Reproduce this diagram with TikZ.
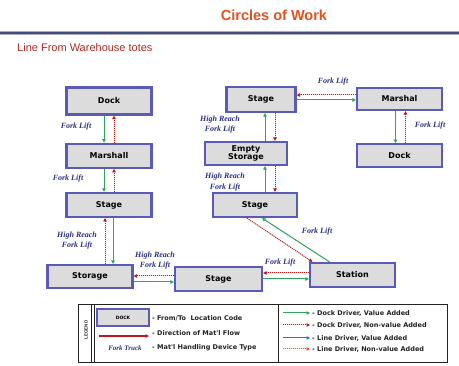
\documentclass[tikz,border=0pt]{standalone}
\usepackage{fontspec}
\setmainfont{Liberation Sans}
\newfontfamily\boxfont{DejaVu Sans}
\newfontfamily\liftfont{Liberation Serif}
\usepackage{tikz}
\usetikzlibrary{arrows.meta,positioning,calc}
\definecolor{titleorange}{HTML}{E5501E}
\definecolor{subred}{HTML}{B02A24}
\definecolor{rulenavy}{HTML}{454B78}
\definecolor{rulegray}{HTML}{A9ACBF}
\definecolor{boxedge}{HTML}{5A5AB8}
\definecolor{boxfill}{HTML}{DCDCDC}
\definecolor{liftblue}{HTML}{2B2F86}
\definecolor{valgreen}{HTML}{2FA45A}
\definecolor{nonvalred}{HTML}{C01818}
\definecolor{lineblue}{HTML}{2F6BE8}
\definecolor{linered}{HTML}{F04848}
\definecolor{legink}{HTML}{222222}

\begin{document}
\begin{tikzpicture}[x=1pt, y=1pt,
  loc/.style={rectangle, draw=boxedge, line width=2.2pt, fill=boxfill, minimum width=85pt, minimum height=24pt, inner sep=1pt, align=center, font=\boxfont\bfseries\fontsize{8}{9}\selectfont},
  lift/.style={font=\liftfont\bfseries\itshape\fontsize{8}{10.5}\selectfont, text=liftblue, align=center, inner sep=0pt},
  tip/.style={-{Triangle[length=3.5pt,width=3.5pt]}},
  va/.style={tip, line width=1pt, draw=valgreen, fill=valgreen},
  nva/.style={tip, line width=1pt, draw=nonvalred, fill=nonvalred, dash pattern=on 1pt off 1pt},
  lva/.style={tip, line width=1pt, draw=lineblue, fill=lineblue},
  lnva/.style={tip, line width=1pt, draw=linered, fill=linered, dash pattern=on 1pt off 1pt},
  legtext/.style={anchor=west, inner sep=0pt, text=legink, font=\boxfont\bfseries\fontsize{6.5}{8}\selectfont}
]
\useasboundingbox (0,0) rectangle (459,-366);

% header
\node[font=\bfseries\fontsize{14.5}{16}\selectfont, text=titleorange] (title) at (274,-15) {Circles of Work};
\draw[rulegray, line width=4pt] (0,-33) -- (459,-33);
\draw[rulenavy, line width=1.8pt] (0,-33) -- (459,-33);
\node[anchor=west, text=subred, font=\fontsize{11}{13}\selectfont, inner sep=0pt] (subtitle) at (17,-48) {Line From Warehouse totes};

% left circle
\node[loc, minimum height=27pt] (dockL) at (109,-101) {Dock};
\node[loc, below=27pt of dockL] (marshall) {Marshall};
\node[loc, below=23pt of marshall] (stageL) {Stage};
\node[loc, minimum height=23pt] (storage) at (90,-276.5) {Storage};
\node[loc, minimum width=87pt] (stageB) at (218.5,-279) {Stage};
\node[loc] (station) at (352.5,-275) {Station};

% right circle
\node[loc, minimum width=69pt, minimum height=25pt] (stageT) at (261,-99.5) {Stage};
\node[loc, minimum width=82pt, minimum height=23pt, font=\boxfont\bfseries\fontsize{8}{8.5}\selectfont] (emptystor) at (246,-153.5) {Empty\\Storage};
\node[loc, minimum width=84pt] (stageR) at (255,-205) {Stage};
\node[loc, minimum height=22pt] (marshal) at (399.5,-99) {Marshal};
\node[loc, minimum height=23pt, below=32pt of marshal] (dockR) {Dock};

% flows, left side
\draw[va] ([xshift=-5pt]dockL.south) -- ([xshift=-5pt]dockL.south |- marshall.north);
\draw[nva] ([xshift=5pt]dockL.south |- marshall.north) -- ([xshift=5pt]dockL.south);
\draw[va] ([xshift=-5pt]marshall.south) -- ([xshift=-5pt]marshall.south |- stageL.north);
\draw[nva] ([xshift=5pt]marshall.south |- stageL.north) -- ([xshift=5pt]marshall.south);
\draw[va] ([xshift=4pt]stageL.south) -- ([xshift=4pt]stageL.south |- storage.north);
\draw[nva] ([xshift=-4pt]stageL.south |- storage.north) -- ([xshift=-4pt]stageL.south);
\draw[nva] ([yshift=3pt]stageB.west) -- ([yshift=3pt]stageB.west -| storage.east);
\draw[va] ([yshift=-3pt]stageB.west -| storage.east) -- ([yshift=-3pt]stageB.west);
\draw[nva] ([yshift=2pt]station.west) -- ([yshift=2pt]station.west -| stageB.east);
\draw[va] ([yshift=-4pt]station.west -| stageB.east) -- ([yshift=-4pt]station.west);

% flows, right side
\draw[va] ([xshift=-23pt]station.north) -- ([xshift=7pt]stageR.south);
\draw[nva] ([xshift=-8pt]stageR.south) -- ([xshift=-40pt]station.north);
\draw[va] ([xshift=10pt]stageR.north) -- ([xshift=10pt]stageR.north |- emptystor.south);
\draw[nva] ([xshift=20pt]stageR.north |- emptystor.south) -- ([xshift=20pt]stageR.north);
\draw[va] ([xshift=4pt]stageT.south |- emptystor.north) -- ([xshift=4pt]stageT.south);
\draw[nva] ([xshift=14pt]stageT.south) -- ([xshift=14pt]stageT.south |- emptystor.north);
\draw[nva] ([yshift=4pt]marshal.west) -- ([yshift=4pt]marshal.west -| stageT.east);
\draw[va] ([yshift=-1pt]marshal.west -| stageT.east) -- ([yshift=-1pt]marshal.west);
\draw[va] ([xshift=-4pt]marshal.south) -- ([xshift=-4pt]marshal.south |- dockR.north);
\draw[nva] ([xshift=6pt]marshal.south |- dockR.north) -- ([xshift=6pt]marshal.south);

% device labels
\node[lift] (lftA) at (76,-127) {Fork Lift};
\node[lift] (lftB) at (68,-179) {Fork Lift};
\node[lift] (lftC) at (77,-240.5) {High Reach\\Fork Lift};
\node[lift] (lftD) at (155,-260.5) {High Reach\\Fork Lift};
\node[lift] (lftE) at (280,-263) {Fork Lift};
\node[lift] (lftF) at (317,-232) {Fork Lift};
\node[lift] (lftG) at (220,-124.5) {High Reach\\Fork Lift};
\node[lift] (lftH) at (225,-182) {High Reach\\Fork Lift};
\node[lift] (lftI) at (333,-82) {Fork Lift};
\node[lift] (lftJ) at (430,-126) {Fork Lift};

% legend
\draw[legink, line width=0.9pt] (78,-304) rectangle (447,-362);
\draw[legink, line width=0.6pt] (91,-304) -- (91,-362) (94,-304) -- (94,-362);
\draw[legink, line width=0.6pt] (278,-304) -- (278,-362);
\node[rotate=90, text=legink, font=\bfseries\fontsize{4.5}{5}\selectfont, inner sep=0pt] (legword) at (86,-330) {LEGEND};

\node[loc, minimum width=52pt, minimum height=17pt, line width=1.5pt, font=\boxfont\bfseries\fontsize{4.5}{5}\selectfont] (legdock) at (123,-317.5) {DOCK};
\node[legtext] (legA) at (152,-318) {- From/To~~Location Code};
\coordinate (flowA) at (99,-336);
\coordinate (flowB) at (149,-336);
\draw[tip, line width=1.1pt, draw=nonvalred, fill=nonvalred] (flowA) -- (flowB);
\node[legtext] (legB) at (152,-333) {- Direction of Mat'l Flow};
\node[font=\liftfont\bfseries\itshape\fontsize{7}{8}\selectfont, text=liftblue, inner sep=0pt] (legtruck) at (125,-348) {Fork Truck};
\node[legtext] (legC) at (152,-348) {- Mat'l Handling Device Type};

\node[legtext] (legD) at (312,-313) {- Dock Driver, Value Added};
\node[legtext] (legE) at (312,-325) {- Dock Driver, Non-value Added};
\node[legtext] (legF) at (312,-338) {- Line Driver, Value Added};
\node[legtext] (legG) at (312,-349) {- Line Driver, Non-value Added};
\draw[va] (legD.west -| 283,0) -- ([xshift=-2pt]legD.west);
\draw[nva] (legE.west -| 283,0) -- ([xshift=-2pt]legE.west);
\draw[lva] (legF.west -| 283,0) -- ([xshift=-2pt]legF.west);
\draw[lnva] (legG.west -| 283,0) -- ([xshift=-2pt]legG.west);
\end{tikzpicture}
\end{document}
